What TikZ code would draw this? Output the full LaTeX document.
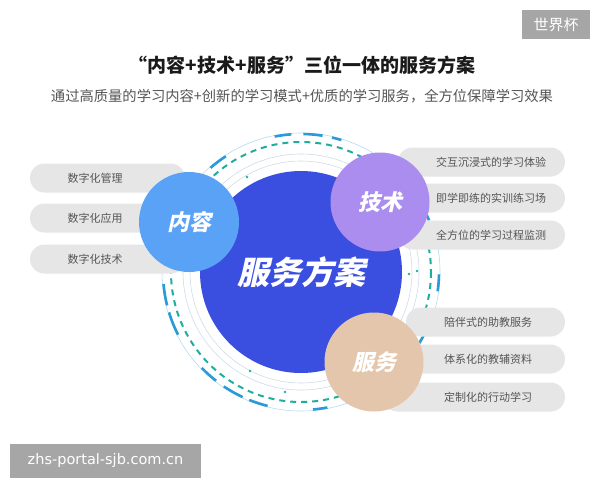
\documentclass[tikz,border=0pt]{standalone}
\usepackage{fontspec}
\setmainfont{Noto Sans CJK SC}
\newfontfamily\heavyfont{Noto Sans CJK SC Black}[FakeSlant=0.22]
\newfontfamily\urlfont{DejaVu Sans}
\usetikzlibrary{positioning}
\definecolor{hub}{HTML}{3A4EE0}
\definecolor{neirong}{HTML}{5AA2F6}
\definecolor{jishu}{HTML}{AA8DEF}
\definecolor{fuwu}{HTML}{E3C6AB}
\definecolor{pillgray}{HTML}{E6E6E6}
\definecolor{dashteal}{HTML}{1FAE9E}
\definecolor{segblue}{HTML}{2B9AD8}
\definecolor{ringline}{HTML}{CFDCEA}
\definecolor{wmgray}{HTML}{A6A6A6}
\definecolor{ink}{HTML}{1A1A1A}
\definecolor{ink2}{HTML}{555555}

\begin{document}
\begin{tikzpicture}[x=1pt, y=-1pt,
  pill/.style={fill=pillgray, rounded corners=14.5pt, minimum height=29pt, inner sep=0pt, font=\fontsize{11}{13}\selectfont, text=ink2},
  lpill/.style={pill, minimum width=155pt, execute at end node={\hspace*{25pt}}},
  tpill/.style={pill, minimum width=167pt, execute at begin node={\hspace*{19pt}}},
  spill/.style={pill, minimum width=159pt, execute at begin node={\hspace*{5pt}}},
  bubble/.style={circle, inner sep=0pt, minimum size=99pt, text=white, font=\heavyfont\fontsize{22}{24}\selectfont},
  seg/.style={segblue, line width=2.6pt},
  thin/.style={ringline, line width=0.6pt},
  mark dot/.style={dashteal, radius=1.3},
  wm/.style={fill=wmgray, text=white, inner sep=0pt},
]
\useasboundingbox[fill=white] (0,0) rectangle (600,480);
% heading
\node[font=\fontsize{19}{23}\selectfont\bfseries, text=ink] (title) at (302,65) {“内容+技术+服务"三位一体的服务方案};
\node[font=\fontsize{14.3}{17}\selectfont, text=ink2] (sub) at (302,96) {通过高质量的学习内容+创新的学习模式+优质的学习服务，全方位保障学习效果};
% rings
\coordinate (ctr) at (301,272);
\draw[thin] (ctr) circle[radius=111];
\draw[thin] (ctr) circle[radius=118];
\draw[thin, segblue!35] (ctr) circle[radius=139];
\draw[dashteal, line width=2pt, dash pattern=on 6pt off 5pt] (ctr) circle[radius=130];
\foreach \a/\b in {229/237, 259/266, 271/279, 283/287, 166/175, 153/163, 128/136, 115/124, 104/112, 79/85, 1/8, 26/31, 332/338}
  \draw[seg] (ctr) ++(\a:138) arc[start angle=\a, end angle=\b, radius=138];
\foreach \p in {(250,371), (285,392), (247,177), (409,274), (417,271)}
  \fill[mark dot] \p circle[];
% hub
\node[circle, fill=hub, inner sep=0pt, minimum size=202pt, text=white, font=\heavyfont\fontsize{32}{34}\selectfont] (hubc) at (ctr) {服务方案};
% pills
\node[lpill] (lp1) at (107.5,178) {数字化管理};
\node[lpill] (lp2) at (107.5,218) {数字化应用};
\node[lpill] (lp3) at (107.5,259) {数字化技术};
\node[tpill] (tp1) at (481.5,162) {交互沉浸式的学习体验};
\node[tpill] (tp2) at (481.5,198) {即学即练的实训练习场};
\node[tpill] (tp3) at (481.5,235) {全方位的学习过程监测};
\node[spill] (sp1) at (485.5,322) {陪伴式的助教服务};
\node[spill] (sp2) at (485.5,359) {体系化的教辅资料};
\node[pill, minimum width=182pt, execute at begin node={\hspace*{28pt}}] (sp3) at (474,397) {定制化的行动学习};
% bubbles
\node[bubble, fill=neirong, minimum size=100pt] (nr) at (189,222) {内容};
\node[bubble, fill=jishu] (js) at (380,202) {技术};
\node[bubble, fill=fuwu] (fw) at (374,362) {服务};
% watermarks
\node[wm, minimum width=68pt, minimum height=29pt, font=\fontsize{15}{17}\selectfont] (wmtop) at (556,24.5) {世界杯};
\node[wm, minimum width=191pt, minimum height=34pt, font=\urlfont\fontsize{14.5}{17}\selectfont] (wmbot) at (105.5,460.5) {zhs-portal-sjb.com.cn};
\end{tikzpicture}
\end{document}
